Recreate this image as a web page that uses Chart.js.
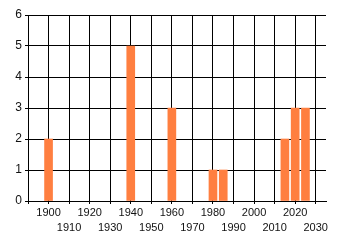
<!DOCTYPE html>
<html>
<head>
<meta charset="utf-8">
<script src="https://cdn.jsdelivr.net/npm/chart.js@4"></script>
<style>
html,body{margin:0;padding:0;background:#fff;}
#wrap{width:340px;height:245px;}
</style>
</head>
<body>
<div id="wrap"><canvas id="c" width="340" height="245"></canvas></div>
<script>
const years = [1900, 1940, 1960, 1980, 1985, 2015, 2020, 2025];
const counts = [2, 5, 3, 1, 1, 2, 3, 3];
const xMin = 1890, xMax = 2035, xStep = 10;
const yMin = 0, yMax = 6, yStep = 1;

const points = years.map((y, i) => ({x: y, y: counts[i]}));

new Chart(document.getElementById('c'), {
  type: 'bar',
  data: {
    datasets: [{
      data: points,
      backgroundColor: '#ff7f40',
      borderWidth: 0,
      barThickness: 8
    }]
  },
  options: {
    responsive: false,
    animation: false,
    devicePixelRatio: 1,
    layout: {padding: {top: 15, right: 14, left: 0, bottom: 0}},
    plugins: {legend: {display: false}, tooltip: {enabled: false}},
    scales: {
      x: {
        type: 'linear',
        min: xMin, max: xMax,
        offset: false,
        grid: {offset: false, color: '#000', lineWidth: 1, tickLength: 3, drawTicks: true, tickColor: '#000'},
        border: {color: '#000', width: 1},
        ticks: {
          stepSize: xStep,
          includeBounds: false,
          autoSkip: false,
          maxRotation: 0,
          minRotation: 0,
          padding: 2,
          color: '#111',
          font: {family: 'Liberation Sans', size: 11, lineHeight: 1.35},
          callback: function(v) {
            if (v === xMin) return '';
            return (Math.round(v / 10) % 2 === 0) ? [String(v), ''] : ['', String(v)];
          }
        },
        afterFit: function(s) { s.height = 44; }
      },
      y: {
        min: yMin, max: yMax,
        grid: {color: '#000', lineWidth: 1, tickLength: 3, tickColor: '#000'},
        border: {color: '#000', width: 1},
        ticks: {
          stepSize: yStep,
          padding: 3,
          color: '#111',
          font: {family: 'Liberation Sans', size: 12}
        },
        afterFit: function(s) { s.width = 28; }
      }
    }
  }
});
</script>
</body>
</html>
